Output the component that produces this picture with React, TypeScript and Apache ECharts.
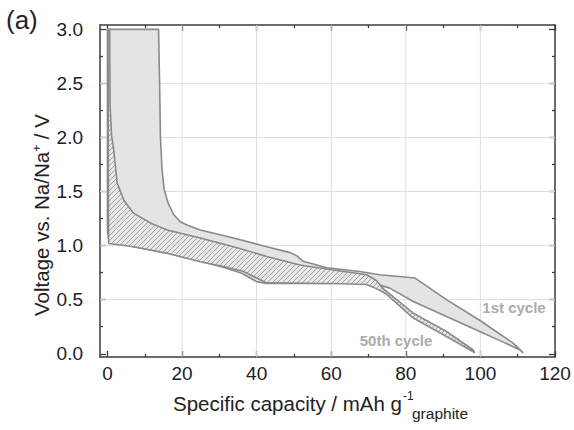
import React, { useEffect, useRef } from 'react';
import * as echarts from 'echarts';

// ---- axis ticks / labels ----
const xTicks = [0, 20, 40, 60, 80, 100, 120];
const xMinorTicks = [10, 30, 50, 70, 90, 110];
const yTicks = [0, 0.5, 1.0, 1.5, 2.0, 2.5, 3.0];
const yMinorTicks = [0.25, 0.75, 1.25, 1.75, 2.25, 2.75];
const xGridLines = [20, 40, 60, 80, 100];
const yGridLines = [0.5, 1.0, 1.5, 2.0, 2.5];

// ---- 1st cycle: desodiation (upper) and sodiation (lower) curves ----
const cycle1Upper: number[][] = [
  [13.7, 3.0], [14.0, 2.47], [14.2, 2.01], [14.6, 1.72], [15.2, 1.52], [16.3, 1.39],
  [17.7, 1.29], [19.5, 1.22], [21.3, 1.19], [24.9, 1.145], [33.8, 1.07], [42.7, 0.99],
  [49.0, 0.935], [50.8, 0.905], [52.5, 0.855], [58.8, 0.795], [67.7, 0.76], [73.0, 0.73],
  [82.5, 0.70], [90.9, 0.50], [99.8, 0.31], [108.7, 0.10], [111.4, 0.01],
];
const cycle1Lower: number[][] = [
  [0.0, 3.0], [0.0, 1.15], [0.4, 1.035], [7.0, 0.99], [16.0, 0.93], [25.0, 0.855],
  [31.0, 0.80], [36.0, 0.745], [40.0, 0.667], [42.5, 0.65], [60.0, 0.65], [68.0, 0.655],
  [72.0, 0.645], [75.7, 0.607], [82.0, 0.483], [90.9, 0.344], [99.8, 0.206], [106.0, 0.11],
  [110.5, 0.037], [111.4, 0.01],
];

// ---- 50th cycle ----
const cycle50Upper: number[][] = [
  [0.6, 3.0], [0.7, 2.3], [1.1, 2.02], [1.7, 1.88], [2.6, 1.58], [4.4, 1.42], [7.0, 1.30],
  [11.5, 1.21], [16.0, 1.145], [24.9, 1.07], [33.8, 0.99], [42.7, 0.90], [51.6, 0.82],
  [60.6, 0.775], [69.5, 0.73], [72.0, 0.68], [74.0, 0.60], [82.0, 0.375], [90.9, 0.206],
  [98.0, 0.037], [98.4, 0.012],
];
const cycle50Lower: number[][] = [
  [0.15, 3.0], [0.3, 1.02], [7.0, 0.99], [16.0, 0.93], [24.9, 0.85], [31.1, 0.806],
  [36.5, 0.76], [40.0, 0.70], [42.7, 0.655], [60.6, 0.65], [69.5, 0.64], [72.2, 0.60],
  [74.5, 0.56], [82.0, 0.33], [90.9, 0.16], [98.4, 0.012],
];

const X_MIN = -2;
const X_MAX = 120;
const Y_MIN = -0.03;
const Y_MAX = 3.04;

const FONT = '"Liberation Sans", Arial, Helvetica, sans-serif';
const FRAME = '#3c3c3c';
const TEXT = '#222';

export default function App() {
  const ref = useRef<HTMLDivElement>(null);

  useEffect(() => {
    document.body.style.margin = '0';
    if (!ref.current) return;
    const chart = echarts.init(ref.current, undefined, { renderer: 'svg' });

    const c = document.createElement('canvas');
    c.width = 5;
    c.height = 5;
    const ctx = c.getContext('2d')!;
    ctx.fillStyle = '#e8e8e8';
    ctx.fillRect(0, 0, 5, 5);
    ctx.strokeStyle = '#a2a2a2';
    ctx.lineWidth = 1;
    ctx.beginPath();
    ctx.moveTo(-1, 6); ctx.lineTo(6, -1);
    ctx.moveTo(-1, 1); ctx.lineTo(1, -1);
    ctx.moveTo(4, 6); ctx.lineTo(6, 4);
    ctx.stroke();
    const hatch: any = { image: c, repeat: 'repeat', imageWidth: 5, imageHeight: 5 };

    const cycle1Polygon = [...cycle1Lower, ...[...cycle1Upper].reverse()];
    const cycle50Polygon = [...cycle50Lower, ...[...cycle50Upper].reverse()];

    const polyRender = (pts: number[][], fill: any) => (params: any, api: any) => {
      if (params.dataIndex !== 0) return null;
      return {
        type: 'polygon',
        shape: { points: pts.map((p) => api.coord(p)) },
        style: { fill, stroke: '#8a8a8a', lineWidth: 1.6, lineJoin: 'round' },
      };
    };

    const tickStyle = { color: FRAME, width: 1.3 };
    const mkX = (grid: number, pos: string, ticks: number[], len: number, labels: boolean, line: boolean) => ({
      type: 'value', gridIndex: grid, position: pos, min: X_MIN, max: X_MAX,
      axisLine: { show: line, onZero: false, lineStyle: { color: FRAME, width: 1.5 } },
      axisTick: { show: true, inside: true, length: len, customValues: ticks, lineStyle: tickStyle },
      axisLabel: labels
        ? { show: true, customValues: ticks, margin: 7, fontSize: 19, color: TEXT, fontFamily: FONT }
        : { show: false },
      splitLine: { show: false },
      minorTick: { show: false },
    });
    const mkY = (grid: number, pos: string, ticks: number[], len: number, labels: boolean, line: boolean) => ({
      type: 'value', gridIndex: grid, position: pos, min: Y_MIN, max: Y_MAX,
      axisLine: { show: line, onZero: false, lineStyle: { color: FRAME, width: 1.5 } },
      axisTick: { show: true, inside: true, length: len, customValues: ticks, lineStyle: tickStyle },
      axisLabel: labels
        ? {
            show: true, customValues: ticks, margin: 17, fontSize: 19, color: TEXT, fontFamily: FONT,
            formatter: (v: number) => v.toFixed(1),
          }
        : { show: false },
      splitLine: { show: false },
      minorTick: { show: false },
    });

    const gridBox = { left: 100, top: 25, right: 19, bottom: 73, containLabel: false, outerBoundsMode: 'none' };

    const option: any = {
      animation: false,
      backgroundColor: '#ffffff',
      grid: [gridBox, { ...gridBox }],
      xAxis: [
        mkX(0, 'bottom', xTicks, 6, true, true),
        mkX(0, 'top', xTicks, 6, false, true),
        mkX(1, 'bottom', xMinorTicks, 3, false, false),
        mkX(1, 'top', xMinorTicks, 3, false, false),
      ],
      yAxis: [
        mkY(0, 'left', yTicks, 6, true, true),
        mkY(0, 'right', yTicks, 6, false, true),
        mkY(1, 'left', yMinorTicks, 3, false, false),
        mkY(1, 'right', yMinorTicks, 3, false, false),
      ],
      series: [
        {
          type: 'custom', name: 'gridX', xAxisIndex: 0, yAxisIndex: 0, silent: true, z: 1,
          data: xGridLines.map((v) => [v, 0]),
          renderItem: (params: any, api: any) => {
            const a = api.coord([api.value(0), Y_MIN]);
            const b = api.coord([api.value(0), Y_MAX]);
            return { type: 'line', shape: { x1: a[0], y1: a[1], x2: b[0], y2: b[1] }, style: { stroke: '#dedede', lineWidth: 1 } };
          },
        },
        {
          type: 'custom', name: 'gridY', xAxisIndex: 0, yAxisIndex: 0, silent: true, z: 1,
          data: yGridLines.map((v) => [0, v]),
          renderItem: (params: any, api: any) => {
            const a = api.coord([X_MIN, api.value(1)]);
            const b = api.coord([X_MAX, api.value(1)]);
            return { type: 'line', shape: { x1: a[0], y1: a[1], x2: b[0], y2: b[1] }, style: { stroke: '#dedede', lineWidth: 1 } };
          },
        },
        {
          type: 'custom', name: '1st cycle', xAxisIndex: 0, yAxisIndex: 0, z: 2,
          data: cycle1Polygon,
          renderItem: polyRender(cycle1Polygon, '#e4e4e4'),
        },
        {
          type: 'custom', name: '50th cycle', xAxisIndex: 0, yAxisIndex: 0, z: 3,
          data: cycle50Polygon,
          renderItem: polyRender(cycle50Polygon, hatch),
        },
      ],
      graphic: {
        elements: [
          { type: 'text', x: 6, y: 20, style: { text: '(a)', fontSize: 26, fontFamily: FONT, fill: TEXT, align: 'left', verticalAlign: 'middle' } },
          {
            type: 'text', x: 41, y: 215, rotation: Math.PI / 2,
            style: {
              text: 'Voltage vs. Na/Na{sup|+} / V', fontSize: 20.5, fontFamily: FONT, fill: TEXT,
              align: 'center', verticalAlign: 'middle',
              rich: { sup: { fontSize: 12, fontFamily: FONT, fill: TEXT, verticalAlign: 'top' } },
            },
          },
          { type: 'text', x: 402, y: 403, style: { text: 'Specific capacity / mAh g', fontSize: 20.5, fontFamily: FONT, fill: TEXT, align: 'right', verticalAlign: 'middle' } },
          { type: 'text', x: 403, y: 396, style: { text: '-1', fontSize: 12, fontFamily: FONT, fill: TEXT, align: 'left', verticalAlign: 'middle' } },
          { type: 'text', x: 412, y: 413, style: { text: 'graphite', fontSize: 15.5, fontFamily: FONT, fill: TEXT, align: 'left', verticalAlign: 'middle' } },
          { type: 'text', x: 514, y: 307, z: 10, style: { text: '1st cycle', fontSize: 15, fontWeight: 'bold', fontFamily: FONT, fill: '#ababab', align: 'center', verticalAlign: 'middle' } },
          { type: 'text', x: 396, y: 340, z: 10, style: { text: '50th cycle', fontSize: 15, fontWeight: 'bold', fontFamily: FONT, fill: '#ababab', align: 'center', verticalAlign: 'middle' } },
        ],
      },
    };

    chart.setOption(option);
    return () => chart.dispose();
  }, []);

  return <div ref={ref} style={{ position: 'absolute', left: 0, top: 0, width: 574, height: 430 }} />;
}
